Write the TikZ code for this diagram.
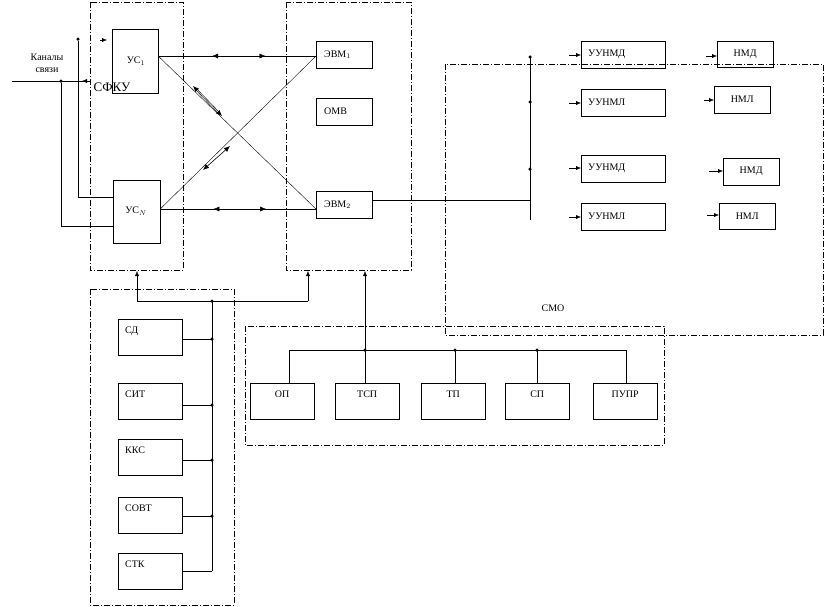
\documentclass[tikz,border=0pt]{standalone}
\usepackage{fontspec}
\setmainfont{Liberation Serif}
\usetikzlibrary{arrows.meta,decorations.markings}
\begin{document}
\begin{tikzpicture}[x=1pt,y=-1pt,
  font=\fontsize{10}{12}\selectfont,
  box/.style={draw,thin},
  grp/.style={draw,thin,dash pattern=on 6pt off 2pt on 1pt off 2pt},
  dot/.style={circle,fill,inner sep=0pt,minimum size=3.5pt},
  tip/.style={-{Latex[length=5pt,width=4pt]}},
  line/.style={thin},
  mid/.style={postaction={decorate},decoration={markings,
     mark=at position 0.38 with {\arrow{Latex[length=6pt,width=5pt,reversed]}},
     mark=at position 0.68 with {\arrow{Latex[length=6pt,width=5pt]}}}}]
\useasboundingbox (0,0) rectangle (825,606);
% groups
\draw[grp] (90,2) rectangle (183,270);
\draw[grp] (286,2) rectangle (411,270);
\draw[grp] (445,64) rectangle (823,335);
\draw[grp] (90,289) rectangle (234,605);
\draw[grp] (245,326) rectangle (664,445);
% nodes
\node[box,minimum width=46pt,minimum height=64pt] (us1) at (135,61) {};
\node at (136,61) {УС$_1$};
\node[box,minimum width=47pt,minimum height=63pt] (usn) at (136.5,211.5) {};
\node at (136,211) {УС$_N$};
\node[box,minimum width=56pt,minimum height=27pt,anchor=north west,text width=40pt] (evm1) at (316,41) {ЭВМ$_1$};
\node[box,minimum width=56pt,minimum height=27pt,anchor=north west,text width=40pt] (omv) at (316,98) {ОМВ};
\node[box,minimum width=56pt,minimum height=27pt,anchor=north west,text width=40pt] (evm2) at (316,191) {ЭВМ$_2$};
\node[font=\fontsize{13}{14}\selectfont] (sfku) at (112,87) {СФКУ};
\node[align=center,inner sep=0pt] (kan) at (47,63) {Каналы\\связи};
\node at (553,308) {СМО};
% right group
\foreach \n/\t/\y in {a/УУНМД/41,b/УУНМЛ/89,c/УУНМД/155,d/УУНМЛ/203}
  \node[box,minimum width=84pt,minimum height=27pt,anchor=north west,text width=70pt] (u\n) at (581,\y) {\t};
\node[box,minimum width=56pt,minimum height=26pt,anchor=north west] (na) at (717,41) {НМД};
\node[box,minimum width=56pt,minimum height=27pt,anchor=north west] (nb) at (714,86) {НМЛ};
\node[box,minimum width=56pt,minimum height=27pt,anchor=north west] (nc) at (723,158) {НМД};
\node[box,minimum width=56pt,minimum height=26pt,anchor=north west] (nd) at (719,203) {НМЛ};
% bottom-left group
\foreach \n/\t/\y in {sd/СД/319,sit/СИТ/383,kks/ККС/439,sovt/СОВТ/497,stk/СТК/553}
  \node[box,minimum width=64pt,minimum height=36pt,anchor=north west,text width=50pt,align=left,text depth=14pt] (\n) at (118,\y) {\t};
% bottom-middle group
\foreach \n/\t/\x in {op/ОП/250,tsp/ТСП/335,tp/ТП/421,sp/СП/505,pupr/ПУПР/593}
  \node[box,minimum width=64pt,minimum height=36pt,anchor=north west,text depth=14pt] (\n) at (\x,383) {\t};
% connections top
\draw[line,mid] (us1.east |- 0,56) -- (evm1.west |- 0,56);
\draw[line,mid] (usn.east |- 0,209) -- (evm2.west |- 0,209);
\draw[line] (us1.east |- 0,56) -- (evm2.west |- 0,209);
\draw[line] (usn.east |- 0,209) -- (evm1.west |- 0,56);
\draw[{Latex[length=6pt,width=5pt]}-{Latex[length=6pt,width=5pt]},semithick,double distance=0.6pt] (193,86) -- (222,116);
\draw[{Latex[length=6pt,width=5pt]}-{Latex[length=6pt,width=5pt]},semithick] (203,170) -- (230,146);
% input lines
\coordinate (in0) at (12,81);
\draw[line] (in0) -- (91,81);
\draw[tip] (90,81) -- (82,81);
\node[dot] (d1) at (61,81) {};
\node[dot] (d2) at (78,39) {};
\draw[tip] (100,40) -- (107,40);
\draw[line] (d2) -- (78,197) -- (usn.west |- 0,197);
\draw[line] (d1) -- (61,226) -- (usn.west |- 0,226);
% EVM2 to bus
\coordinate (b0) at (530,57);
\coordinate (b1) at (530,220);
\draw[line] (evm2.east |- 0,200) -- (530,200);
\draw[line] (b0) -- (b1);
\foreach \y in {57,102,169} \node[dot] at (530,\y) {};
\foreach \n/\y in {a/55,b/103,c/168,d/217} \draw[tip] (569,\y) -- (u\n.west |- 0,\y);
\draw[tip] (706,56) -- (na.west |- 0,56);
\draw[tip] (704,100) -- (nb.west |- 0,100);
\draw[tip] (709,171) -- (nc.west |- 0,171);
\draw[tip] (707,215) -- (nd.west |- 0,215);
% bottom-left bus
\draw[line] (212,301) -- (212,571);
\foreach \y in {301,339,405,460,516} \node[dot] at (212,\y) {};
\foreach \n/\y in {sd/339,sit/405,kks/460,sovt/516,stk/571} \draw[line] (\n.east |- 0,\y) -- (212,\y);
\draw[line] (137,301) -- (308,301);
\draw[tip] (137,301) -- (137,271);
\draw[tip] (308,301) -- (308,271);
% bottom-middle bus
\draw[line] (289,350) -- (626,350);
\foreach \x in {365,455,537} \node[dot] at (\x,350) {};
\draw[tip] (365,350) -- (365,271);
\foreach \n/\x in {op/289,tsp/365,tp/455,sp/537,pupr/626} \draw[line] (\x,350) -- (\n.north -| \x,0);
\end{tikzpicture}
\end{document}
